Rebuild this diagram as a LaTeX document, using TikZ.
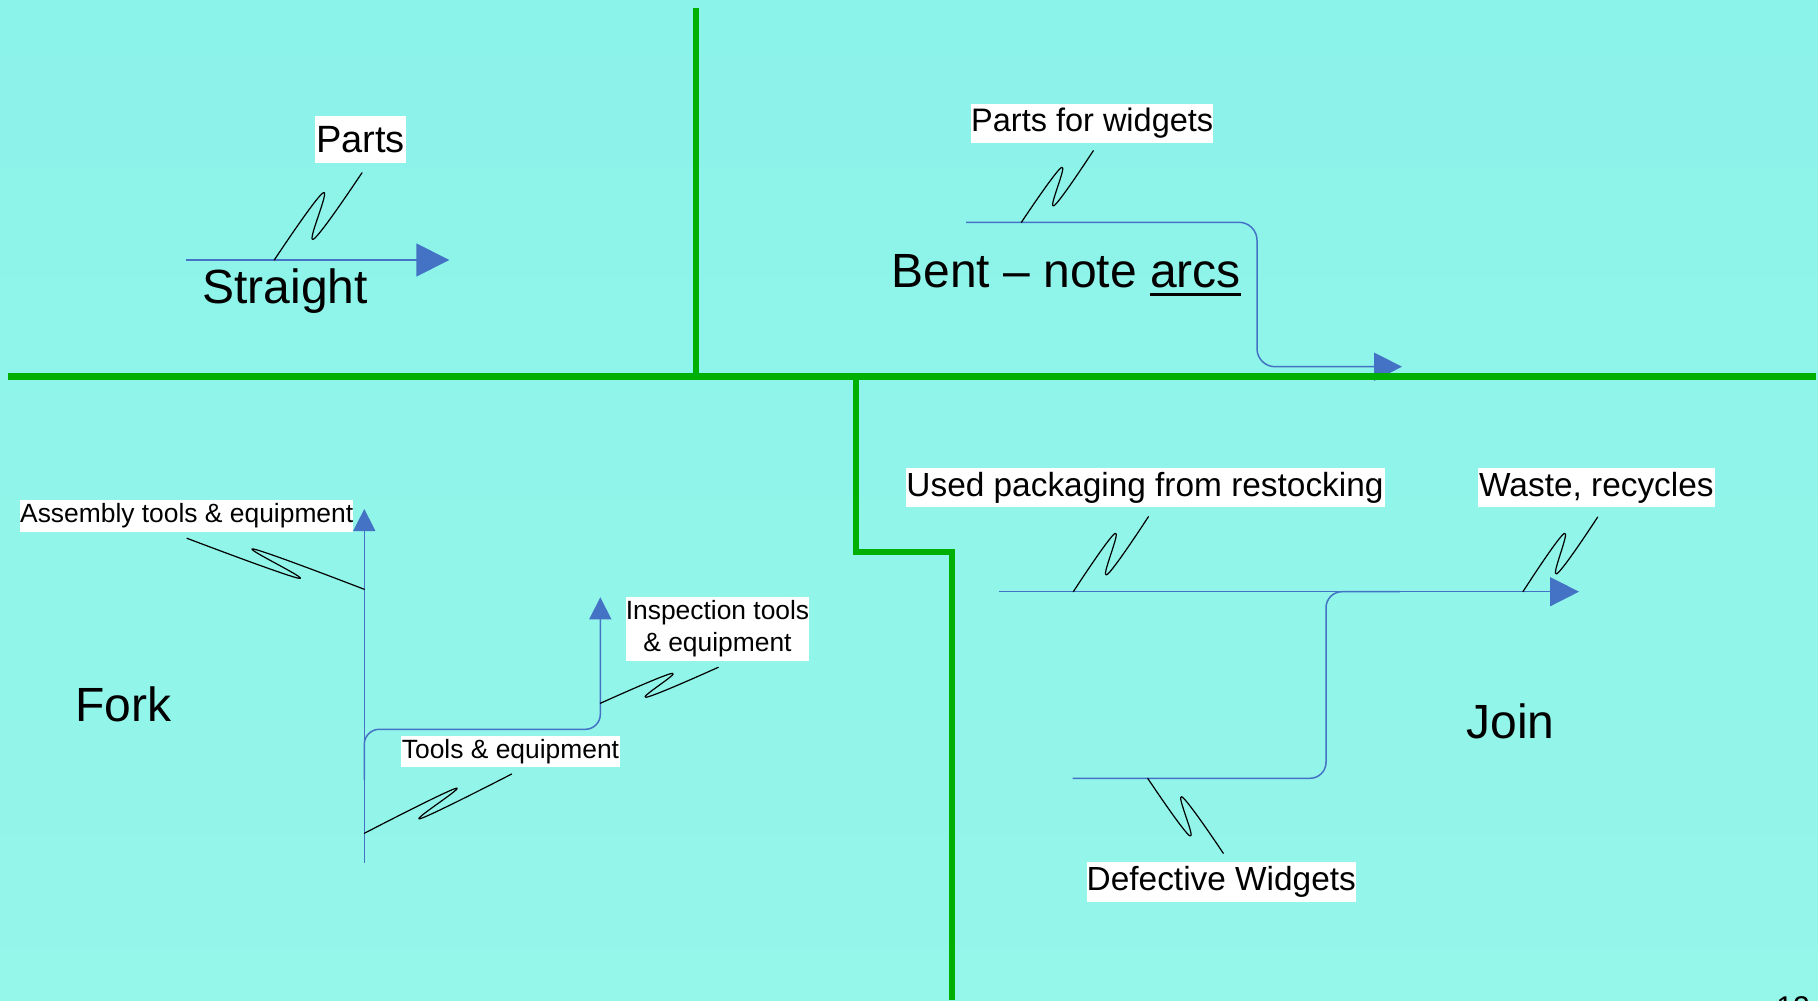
\documentclass[tikz,border=0pt]{standalone}
\usepackage{fontspec}
\setmainfont{Liberation Sans}
\usetikzlibrary{arrows.meta}
\definecolor{bgtop}{RGB}{140,243,234}
\definecolor{bgbot}{RGB}{149,246,234}
\definecolor{divider}{RGB}{0,176,0}
\definecolor{flow}{RGB}{68,114,196}
% underline with a heavier rule than \underline gives
\newcommand\heavyul[1]{\setbox0\hbox{#1}\rlap{\rule[-4.6pt]{\wd0}{1.6pt}}\box0}

\begin{document}
\begin{tikzpicture}[x=0.5pt,y=-0.5pt,
  flowline/.style={draw=flow, line width=0.75pt},
  bigtip/.style={-{Triangle[length=16.5pt,width=16.5pt]}},
  midtip/.style={-{Triangle[length=14pt,width=14pt]}},
  smalltip/.style={-{Triangle[length=11pt,width=11pt]}},
  zig/.style={draw=black, line width=0.6pt, line join=round, line cap=round},
  tag/.style={fill=white, inner sep=0pt, align=center},
  smalltag/.style={tag, font=\fontsize{13.2}{15.85}\selectfont},
  midtag/.style={tag, font=\fontsize{16.25}{19}\selectfont},
  jointag/.style={tag, font=\fontsize{16.7}{19.5}\selectfont},
  title/.style={font=\fontsize{24}{28}\selectfont, inner sep=0pt, anchor=base west},
  bar/.style={draw=divider, line width=3.3pt, line join=miter}
]
% background
\useasboundingbox (0,0) rectangle (1818,1000);
\fill[top color=bgtop, bottom color=bgbot] (0,0) rectangle (1818,1000);

% ---------- Straight ----------
\coordinate (s0) at (186,260);
\coordinate (s1) at (449.3,260);
\draw[flowline, bigtip] (s0) -- (s1);
\node[tag, font=\fontsize{19}{23}\selectfont, minimum width=45.5pt, minimum height=23.3pt] (parts) at (360.5,139.3) {Parts};
\coordinate (z1a) at (274.3,260);
\coordinate (z1e) at (362,172.7);
\draw[zig] plot[smooth, tension=0.65] coordinates {(z1a) (323.3,192.7) (313.3,239.3) (z1e)};
\node[title] (straight) at (202,303) {Straight};

% ---------- Bent ----------
\coordinate (b0) at (966,222.3);
\coordinate (b1) at (1402,366.7);
\draw[flowline, midtip, rounded corners=9pt] (b0) -| (1257,300) |- (b1);
\node[midtag, minimum width=120.3pt, minimum height=19.3pt] (pfw) at (1092.2,123.3) {Parts for widgets};
\coordinate (z2a) at (1021.4,222.3);
\coordinate (z2e) at (1093.3,150.7);
\draw[zig] plot[smooth, tension=0.65] coordinates {(z2a) (1061.7,167.3) (1053.6,206) (z2e)};
\node[title] (bent) at (891,287) {Bent – note \heavyul{arcs}};

% ---------- Fork ----------
\coordinate (f0) at (364.3,862.7);
\coordinate (f1) at (364.3,509);
\draw[flowline, smalltip] (f0) -- (f1);
\coordinate (f2) at (364.3,780);
\coordinate (f3) at (600.3,597.3);
\draw[flowline, smalltip, rounded corners=7.5pt] (f2) |- (480,729.3) -| (f3);
\node[smalltag, minimum width=165.7pt, minimum height=15.8pt] (asm) at (186.7,515.8) {Assembly tools \& equipment};
\node[smalltag, minimum width=91.5pt, minimum height=31.7pt] (insp) at (717.5,629) {Inspection tools\\ \& equipment};
\node[smalltag, minimum width=109.5pt, minimum height=15.7pt] (tools) at (510.5,751.7) {Tools \& equipment};
\coordinate (z3a) at (364.3,589.3);
\coordinate (z3e) at (187,538.3);
\draw[zig] plot[smooth, tension=0.65] coordinates {(z3a) (253.3,549) (299,578.3) (z3e)};
\coordinate (z4a) at (600.3,703.3);
\coordinate (z4e) at (718.3,667.3);
\draw[zig] plot[smooth, tension=0.65] coordinates {(z4a) (672.3,673.3) (646,697.3) (z4e)};
\coordinate (z5a) at (364.3,833.3);
\coordinate (z5e) at (511.7,774);
\draw[zig] plot[smooth, tension=0.65] coordinates {(z5a) (456,788.3) (420,818.7) (z5e)};
\node[title] (fork) at (75,721) {Fork};

% ---------- Join ----------
\coordinate (j0) at (998.6,591.7);
\coordinate (j1) at (1579,591.7);
\draw[flowline, -{Triangle[length=14.5pt,width=14.5pt]}] (j0) -- (j1);
\coordinate (j2) at (1072.7,778.3);
\coordinate (j3) at (1400,591.7);
\draw[flowline, rounded corners=8pt] (j2) -| (1326,700) |- (j3);
\node[jointag, minimum width=239.5pt, minimum height=19.5pt] (used) at (1145,487.8) {Used packaging from restocking};
\node[jointag, minimum width=118.3pt, minimum height=19.6pt] (waste) at (1596.4,487.7) {Waste, recycles};
\node[jointag, minimum width=134.7pt, minimum height=20pt] (defect) at (1221.3,881.7) {Defective Widgets};
\coordinate (z6a) at (1073.3,591.7);
\coordinate (z6e) at (1148.4,516.7);
\draw[zig] plot[smooth, tension=0.65] coordinates {(z6a) (1115.2,533.3) (1106.5,575) (z6e)};
\coordinate (z7a) at (1522.9,591.7);
\coordinate (z7e) at (1597.7,517);
\draw[zig] plot[smooth, tension=0.65] coordinates {(z7a) (1564.4,533.3) (1556.5,574) (z7e)};
\coordinate (z8a) at (1147.7,778.3);
\coordinate (z8e) at (1223.3,853.3);
\draw[zig] plot[smooth, tension=0.65] coordinates {(z8a) (1190,836) (1181.7,796.7) (z8e)};
\node[title] (join) at (1466,738) {Join};

% ---------- dividers ----------
\draw[bar] (696,8) -- (696,376.7);
\draw[bar] (8,376.7) -- (1816,376.7);
\draw[bar] (856,376.7) -- (856,552) -- (952,552) -- (952,1000);

% slide number, mostly below the page edge
\node[font=\fontsize{15}{18}\selectfont, anchor=north west, inner sep=0pt] (pagenum) at (1776,996.5) {12};
\end{tikzpicture}
\end{document}
